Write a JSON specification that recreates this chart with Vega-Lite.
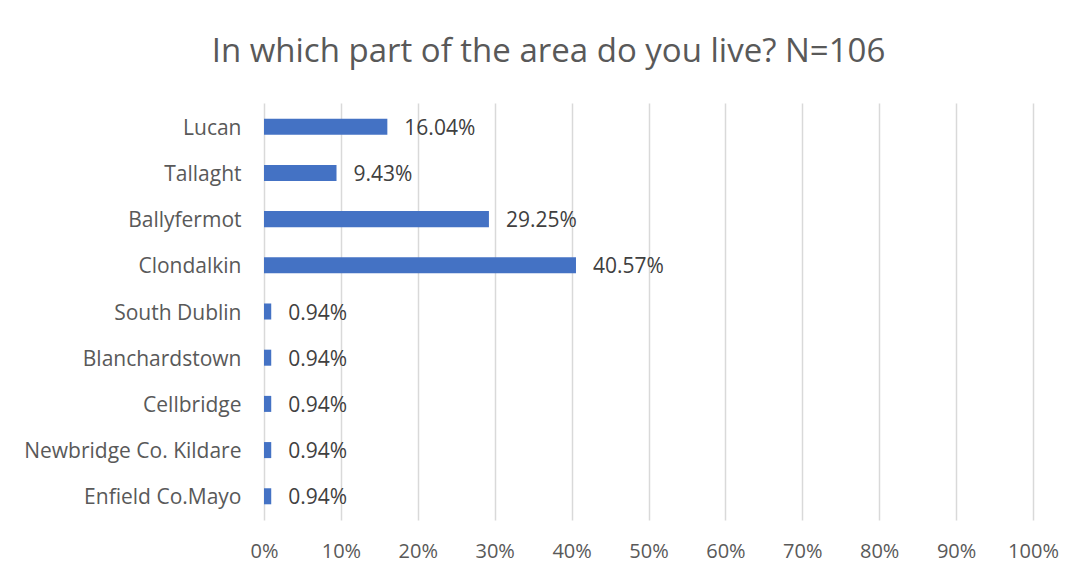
{
  "$schema": "https://vega.github.io/schema/vega-lite/v6.json",
  "width": 769,
  "height": 417,
  "autosize": {"type": "none"},
  "padding": {"left": 264, "top": 103, "right": 46, "bottom": 61},
  "background": "white",
  "title": {
    "text": "In which part of the area do you live? N=106",
    "fontSize": 33,
    "font": "Open Sans",
    "fontWeight": "normal",
    "color": "#595959",
    "anchor": "middle",
    "dx": -100,
    "offset": 34
  },
  "data": {
    "values": [
      {"area": "Lucan", "share": 0.1604},
      {"area": "Tallaght", "share": 0.0943},
      {"area": "Ballyfermot", "share": 0.2925},
      {"area": "Clondalkin", "share": 0.4057},
      {"area": "South Dublin", "share": 0.0094},
      {"area": "Blanchardstown", "share": 0.0094},
      {"area": "Cellbridge", "share": 0.0094},
      {"area": "Newbridge Co. Kildare", "share": 0.0094},
      {"area": "Enfield Co.Mayo", "share": 0.0094}
    ]
  },
  "encoding": {
    "y": {
      "field": "area",
      "type": "nominal",
      "sort": null,
      "title": null,
      "scale": {"paddingInner": 0.653, "paddingOuter": 0.34},
      "axis": {
        "domain": false,
        "ticks": false,
        "labelPadding": 23,
        "labelOffset": 2,
        "labelFont": "Open Sans",
        "labelFontSize": 21,
        "labelColor": "#595959",
        "labelLimit": 300,
        "grid": false
      }
    },
    "x": {
      "field": "share",
      "type": "quantitative",
      "title": null,
      "scale": {"domain": [0, 1]},
      "axis": {
        "values": [0, 0.1, 0.2, 0.3, 0.4, 0.5, 0.6, 0.7, 0.8, 0.9, 1],
        "format": ".0%",
        "domain": false,
        "ticks": false,
        "labelFlush": false,
        "labelOverlap": false,
        "labelPadding": 21,
        "labelFont": "Open Sans",
        "labelFontSize": 20,
        "labelColor": "#595959",
        "grid": true,
        "gridColor": "#D9D9D9",
        "gridWidth": 1.5
      }
    }
  },
  "layer": [
    {"mark": {"type": "bar", "color": "#4472C4"}},
    {
      "mark": {"type": "text", "align": "left", "dx": 17, "dy": 2, "font": "Open Sans", "fontSize": 21, "color": "#404040"},
      "encoding": {"text": {"field": "share", "type": "quantitative", "format": ".2%"}}
    }
  ],
  "config": {"view": {"stroke": null}}
}
